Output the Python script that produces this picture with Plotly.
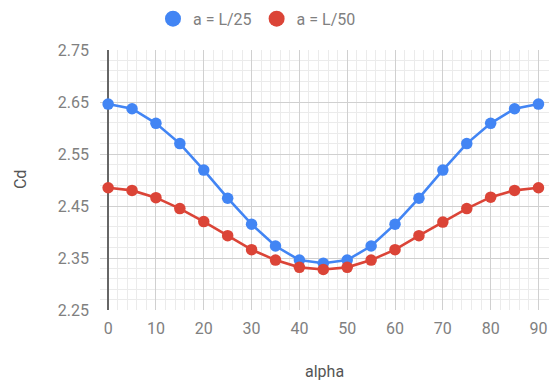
import plotly.graph_objects as go

# Drag coefficient vs. angle of attack for two roughness sizes
alpha = [0, 5, 10, 15, 20, 25, 30, 35, 40, 45, 50, 55, 60, 65, 70, 75, 80, 85, 90]
cd_l25 = [2.646, 2.637, 2.609, 2.570, 2.519, 2.465, 2.415, 2.373, 2.346, 2.340,
          2.346, 2.373, 2.415, 2.465, 2.519, 2.570, 2.609, 2.637, 2.646]
cd_l50 = [2.485, 2.480, 2.466, 2.445, 2.420, 2.393, 2.366, 2.346, 2.332, 2.328,
          2.332, 2.346, 2.366, 2.393, 2.419, 2.445, 2.467, 2.480, 2.485]
series_names = ["a = L/25", "a = L/50"]
x_ticks = [0, 10, 20, 30, 40, 50, 60, 70, 80, 90]
y_ticks = [2.25, 2.35, 2.45, 2.55, 2.65, 2.75]

BLUE = "#4285F4"
RED = "#DB4437"
TICK_GREY = "#808080"
TITLE_GREY = "#555555"
FONT = "Roboto, Arial, sans-serif"

fig = go.Figure()

for ys, color in [(cd_l25, BLUE), (cd_l50, RED)]:
    fig.add_trace(go.Scatter(
        x=alpha, y=ys, mode="lines+markers",
        line=dict(color=color, width=2.6),
        marker=dict(color=color, size=11.5),
        showlegend=False, hoverinfo="x+y",
    ))

# legend entries shown as plain circles
for name, color in zip(series_names, [BLUE, RED]):
    fig.add_trace(go.Scatter(
        x=[None], y=[None], mode="markers", name=name,
        marker=dict(color=color, size=16),
    ))

fig.update_layout(
    width=558, height=381,
    margin=dict(l=100, r=9, t=50, b=71, autoexpand=False),
    paper_bgcolor="white", plot_bgcolor="white",
    font=dict(family=FONT, size=16, color=TICK_GREY),
    legend=dict(
        orientation="h", x=0.118, xanchor="left", y=1.12, yanchor="middle",
        font=dict(family=FONT, size=16, color=TICK_GREY),
        itemsizing="trace", bgcolor="rgba(0,0,0,0)",
    ),
    xaxis=dict(
        range=[-1.7, 92.2], tickvals=x_ticks, showline=False,
        showgrid=True, gridcolor="#d0d0d0", gridwidth=1,
        minor=dict(dtick=2, tick0=0, showgrid=True, gridcolor="#ebebeb", gridwidth=1),
        zeroline=True, zerolinecolor="#666666", zerolinewidth=1.5,
        ticks="", ticklabelstandoff=7,
        tickfont=dict(family=FONT, size=16, color=TICK_GREY),
    ),
    yaxis=dict(
        range=[2.25, 2.75], tickvals=y_ticks, tickformat=".2f", showline=False,
        showgrid=True, gridcolor="#d0d0d0", gridwidth=1,
        minor=dict(dtick=0.02, tick0=2.25, showgrid=True, gridcolor="#ebebeb", gridwidth=1),
        zeroline=False, ticks="", ticklabelstandoff=10,
        tickfont=dict(family=FONT, size=16, color=TICK_GREY),
    ),
    annotations=[
        dict(text="alpha", xref="paper", yref="paper", x=0.5, y=-0.235,
             xanchor="center", yanchor="middle", showarrow=False,
             font=dict(family=FONT, size=16, color=TITLE_GREY)),
        dict(text="Cd", xref="paper", yref="paper", x=-0.178, y=0.5,
             xanchor="center", yanchor="middle", showarrow=False, textangle=-90,
             font=dict(family=FONT, size=16, color=TITLE_GREY)),
    ],
)

fig.write_html("out.html")
